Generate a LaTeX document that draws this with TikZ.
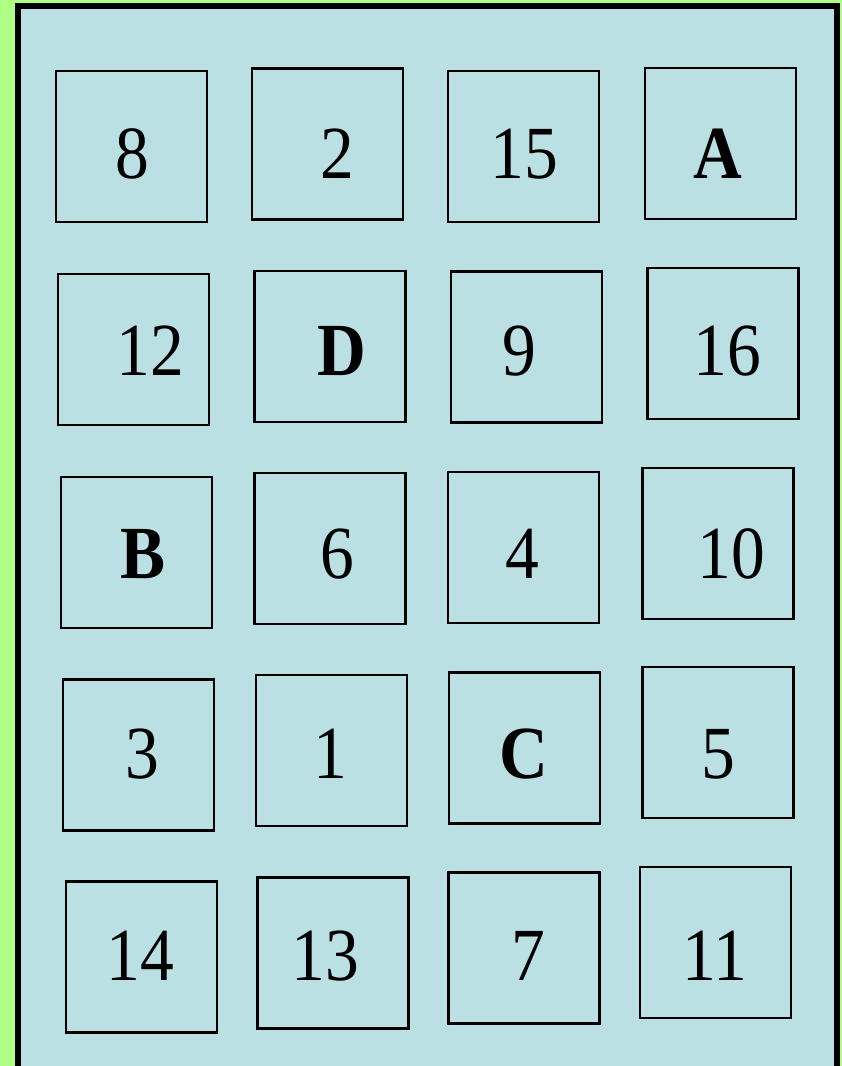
\documentclass[tikz,border=0pt]{standalone}
\usepackage{fontspec}
\setmainfont[FakeStretch=0.9]{Liberation Serif}
\definecolor{bggreen}{HTML}{ADFF86}
\definecolor{panelblue}{HTML}{BAE0E3}
\tikzset{
  cell/.style={draw=black, line width=2.2pt, fill=panelblue, inner sep=0pt,
               minimum width=151pt, minimum height=151pt},
  lab/.style={inner sep=0pt, anchor=base, font=\fontsize{75}{80}\selectfont},
  blab/.style={lab, font=\fontsize{75}{80}\selectfont\bfseries}
}
\begin{document}
\begin{tikzpicture}[x=1pt,y=-1pt]
\useasboundingbox (0,0) rectangle (842,1066);
\clip (0,0) rectangle (842,1066);
\fill[bggreen] (0,0) rectangle (842,1066);
\draw[line width=6pt, fill=panelblue] (18,6) rectangle (837,1090);
% row 1
\node[cell] (c11) at (131.3,146.3) {};
\node[cell] (c12) at (327.5,144) {};
\node[cell] (c13) at (523.8,146.7) {};
\node[cell] (c14) at (720.7,143.7) {};
% row 2
\node[cell] (c21) at (133.7,349.3) {};
\node[cell] (c22) at (330,346.3) {};
\node[cell] (c23) at (526.3,347) {};
\node[cell] (c24) at (723,343.7) {};
% row 3
\node[cell] (c31) at (136.2,552.3) {};
\node[cell] (c32) at (330,548.7) {};
\node[cell] (c33) at (523.8,547.5) {};
\node[cell] (c34) at (718,543.3) {};
% row 4
\node[cell] (c41) at (138.8,755) {};
\node[cell] (c42) at (331.8,750.7) {};
\node[cell] (c43) at (524.7,748) {};
\node[cell] (c44) at (718,742.8) {};
% row 5
\node[cell] (c51) at (141.5,957) {};
\node[cell] (c52) at (333,953) {};
\node[cell] (c53) at (524,948) {};
\node[cell] (c54) at (715.5,942.5) {};
% labels
\node[lab]  (t11) at (132,178) {8};
\node[lab]  (t12) at (337,178) {2};
\node[lab]  (t13) at (524,178) {15};
\node[blab] (t14) at (718,178) {A};
\node[lab]  (t21) at (150,375) {12};
\node[blab] (t22) at (342,375) {D};
\node[lab]  (t23) at (519,375) {9};
\node[lab]  (t24) at (727,375) {16};
\node[blab] (t31) at (143,578) {B};
\node[lab]  (t32) at (337,578) {6};
\node[lab]  (t33) at (522,578) {4};
\node[lab]  (t34) at (731,578) {10};
\node[lab]  (t41) at (142,778) {3};
\node[lab]  (t42) at (330,778) {1};
\node[blab] (t43) at (524,778) {C};
\node[lab]  (t44) at (718,778) {5};
\node[lab]  (t51) at (140,980) {14};
\node[lab]  (t52) at (325,980) {13};
\node[lab]  (t53) at (528,980) {7};
\node[lab]  (t54) at (715,980) {11};
\end{tikzpicture}
\end{document}
